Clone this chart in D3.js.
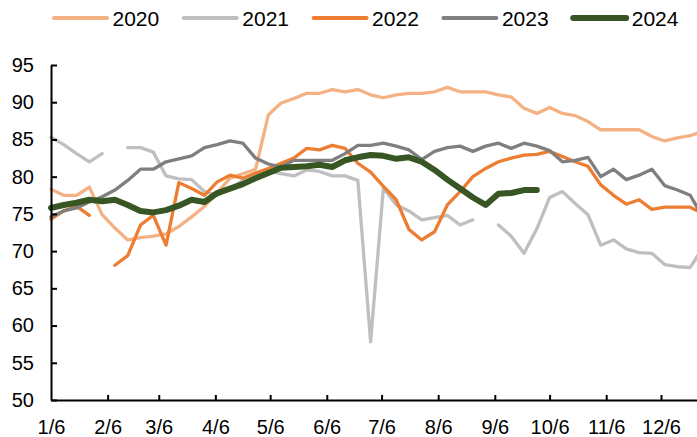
<!DOCTYPE html>
<html>
<head>
<meta charset="utf-8">
<script src="https://cdn.jsdelivr.net/npm/d3@7"></script>
<style>
  body { margin: 0; background: #fff; }
  text { font-family: "Liberation Sans", Arial, sans-serif; fill: #000; }
</style>
</head>
<body>
<div id="chart"></div>
<script>
var width = 697
var height = 437
var padding = { top: 65, right: 0, bottom: 37, left: 51 };

// weekly readings, one value per week starting on 6 Jan (null = no data)
var years = ['2020', '2021', '2022', '2023', '2024'];
var colors = ['#F4B183', '#BFBFBF', '#ED7D31', '#7F7F7F', '#375623'];
var lineWidths = [3.3, 3.3, 3.3, 3.3, 6];

var s2020 = [78.3, 77.5, 77.5, 78.6, 74.9, 73.1, 71.5, 71.8, 72.0, 72.3, 73.3, 74.6, 76.0, 77.8, 79.8, 80.4, 81.0,
    88.3, 89.9, 90.5, 91.2, 91.2, 91.7, 91.4, 91.7, 91.0, 90.6, 91.0, 91.2, 91.2, 91.4, 92.0, 91.4, 91.4, 91.4,
    91.0, 90.7, 89.2, 88.5, 89.3, 88.5, 88.2, 87.4, 86.3, 86.3, 86.3, 86.3, 85.4, 84.8, 85.2, 85.5, 86.1];
var s2021 = [85.3, 84.3, 83.1, 82.0, 83.1, null, 83.9, 83.9, 83.3, 80.1, 79.7, 79.6, 78.0, 77.5, 78.3, 79.5, 80.3,
    80.7, 80.4, 80.1, 80.9, 80.7, 80.1, 80.1, 79.5, 57.8, 78.5, 76.2, 75.4, 74.2, 74.5, 74.8, 73.5, 74.2, null,
    73.5, 72.0, 69.7, 73.0, 77.2, 78.0, 76.4, 74.9, 70.8, 71.5, 70.3, 69.8, 69.7, 68.2, 67.9, 67.8, 70.5];
var s2022 = [74.3, 75.4, 76.0, 74.8, null, 68.1, 69.4, 73.5, 74.8, 70.8, 79.2, 78.4, 77.5, 79.3, 80.2, 79.8, 80.5,
    81.1, 81.8, 82.5, 83.8, 83.6, 84.2, 83.8, 81.8, 80.6, 78.7, 76.9, 72.9, 71.5, 72.6, 76.2, 78.0, 80.0, 81.1,
    82.0, 82.5, 82.9, 83.0, 83.4, 82.7, 82.0, 81.4, 78.9, 77.5, 76.3, 76.9, 75.6, 75.9, 75.9, 75.9, 75.0];
var s2023 = [74.6, 75.4, 75.8, 76.6, 77.3, 78.2, 79.5, 81.0, 81.0, 82.0, 82.4, 82.8, 83.9, 84.3, 84.8, 84.5, 82.5,
    81.7, 81.3, 82.2, 82.2, 82.2, 82.2, 83.1, 84.2, 84.2, 84.5, 84.1, 83.6, 82.3, 83.4, 83.9, 84.1, 83.4, 84.1,
    84.5, 83.8, 84.5, 84.1, 83.5, 82.0, 82.2, 82.6, 80.0, 81.0, 79.6, 80.2, 81.0, 78.8, 78.2, 77.5, 74.5];
var s2024 = [75.8, 76.2, 76.5, 76.9, 76.7, 76.9, 76.2, 75.4, 75.2, 75.5, 76.1, 76.9, 76.6, 77.8, 78.4, 79.0, 79.8,
    80.5, 81.2, 81.3, 81.4, 81.6, 81.3, 82.2, 82.6, 82.9, 82.8, 82.4, 82.6, 82.0, 80.9, 79.6, 78.4, 77.2, 76.2,
    77.7, 77.8, 78.2, 78.2];

var yTicks = [50, 55, 60, 65, 70, 75, 80, 85, 90, 95];
var xTickLabels = ['1/6', '2/6', '3/6', '4/6', '5/6', '6/6', '7/6', '8/6', '9/6', '10/6', '11/6', '12/6'];

var allSeries = [s2020, s2021, s2022, s2023, s2024];

var svg = d3.select('#chart')
    .append("svg")
    .attr('width', width)
    .attr('height', height);

var parseMD = function(s) {
    var p = s.split('/');
    return new Date(2023, +p[0] - 1, +p[1]);
};
var weekDate = function(i) { return d3.timeDay.offset(new Date(2023, 0, 6), i * 7); };

// 1/6 sits on the y axis, 12/6 at 661px; the axis runs on to the right edge
xScale = d3.scaleTime()
        .domain([parseMD('1/6'), parseMD('12/6')])
        .range([padding.left, 661]);
xScale.domain([xScale.domain()[0], xScale.invert(width - padding.right)])
      .range([padding.left, width - padding.right]);

yScale = d3.scaleLinear()
        .domain([50, 95])
        .range([height - padding.bottom, padding.top]);

var line = d3.line()
    .defined(function(d) { return d.v != null; })
    .x(function(d) { return xScale(d.date); })
    .y(function(d) { return yScale(d.v); });

svg.selectAll(".series")
    .data(allSeries)
    .enter().append("path")
    .attr("class", "series")
    .attr("fill", "none")
    .attr("stroke", function(d, i) { return colors[i]; })
    .attr("stroke-width", function(d, i) { return lineWidths[i]; })
    .attr("stroke-linejoin", "round")
    .attr("stroke-linecap", "round")
    .attr("d", function(d) {
        return line(d.map(function(v, i) { return { date: weekDate(i), v: v }; }));
    });

// axes
var yAxis = d3.axisLeft(yScale)
    .tickValues(yTicks)
    .tickSizeInner(-6)
    .tickSizeOuter(0)
    .tickPadding(17);

var xAxis = d3.axisBottom(xScale)
    .tickValues(xTickLabels.map(parseMD))
    .tickFormat(function(d, i) { return xTickLabels[i]; })
    .tickSizeInner(-5)
    .tickSizeOuter(0)
    .tickPadding(20);

var gx = svg.append("g")
    .attr("transform", "translate(0," + (height - padding.bottom) + ")")
    .call(xAxis);

var gy = svg.append("g")
    .attr("transform", "translate(" + padding.left + ",0)")
    .call(yAxis);

[gx, gy].forEach(function(g) {
    g.select(".domain").attr("stroke", "#000").attr("stroke-width", 2);
    g.selectAll(".tick line").attr("stroke", "#000").attr("stroke-width", 2);
    g.selectAll(".tick text")
        .style("font-family", '"Liberation Sans", Arial, sans-serif')
        .style("font-size", "20px")
        .attr("fill", "#000");
});
gx.select(".tick:first-of-type line").remove();

// legend
var legend = svg.selectAll(".legend")
    .data(years)
    .enter().append("g")
    .attr("class", "legend")
    .attr("transform", function(d, i) { return "translate(" + (54 + i * 129.8) + ",18)"; });

legend.append("line")
    .attr("x1", 0)
    .attr("x2", 53)
    .attr("stroke", function(d, i) { return colors[i]; })
    .attr("stroke-width", function(d, i) { return i == 4 ? 6 : 4; })
    .attr("stroke-linecap", "round");

legend.append("text")
    .attr("x", 58.5)
    .attr("y", 8)
    .style("font-size", "21px")
    .text(function(d) { return d; });
</script>
</body>
</html>
